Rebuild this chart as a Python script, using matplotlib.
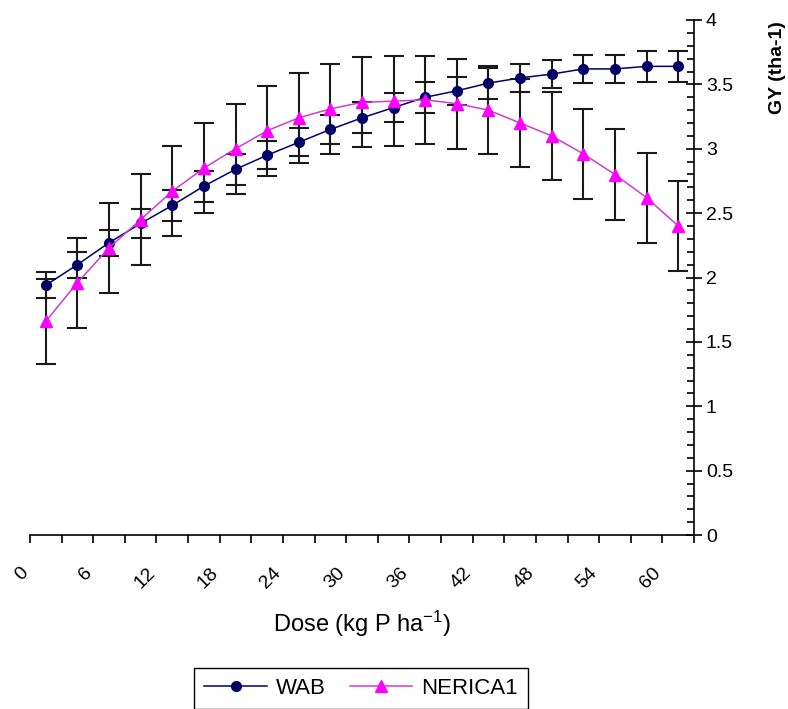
import numpy as np
import matplotlib
matplotlib.use("Agg")
import matplotlib.pyplot as plt
import matplotlib.transforms as mtransforms

plt.rcParams['font.family'] = ['Liberation Sans', 'DejaVu Sans']
plt.rcParams['mathtext.default'] = 'regular'

# dose categories (kg P/ha), one point per 3 kg
dose = [0, 3, 6, 9, 12, 15, 18, 21, 24, 27, 30, 33, 36, 39, 42, 45, 48, 51, 54, 57, 60]
dose_labels = ['0', '6', '12', '18', '24', '30', '36', '42', '48', '54', '60']

# grain yield (t/ha)
wab = [1.94, 2.10, 2.27, 2.42, 2.56, 2.71, 2.84, 2.95, 3.05, 3.15, 3.24,
       3.32, 3.40, 3.45, 3.51, 3.55, 3.58, 3.62, 3.62, 3.64, 3.64]
wab_err = [0.10, 0.10, 0.10, 0.11, 0.12, 0.12, 0.12, 0.11, 0.11, 0.11, 0.12,
           0.11, 0.12, 0.11, 0.12, 0.11, 0.11, 0.11, 0.11, 0.12, 0.12]

nerica = [1.66, 1.96, 2.23, 2.45, 2.67, 2.85, 3.00, 3.14, 3.24, 3.31, 3.36,
          3.37, 3.38, 3.35, 3.30, 3.20, 3.10, 2.96, 2.80, 2.62, 2.40]
nerica_err = [0.33, 0.35, 0.35, 0.35, 0.35, 0.35, 0.35, 0.35, 0.35, 0.35, 0.35,
              0.35, 0.34, 0.35, 0.34, 0.34, 0.34, 0.35, 0.35, 0.35, 0.35]

ytick_vals = [0, 0.5, 1, 1.5, 2, 2.5, 3, 3.5, 4]
ytick_labels = ['0', '0.5', '1', '1.5', '2', '2.5', '3', '3.5', '4']

fig = plt.figure(figsize=(7.88, 7.09), dpi=100)
ax = fig.add_axes([30/788, 1 - 535/709, (694 - 30)/788, (535 - 20)/709])

x = np.arange(len(dose))

ax.errorbar(x, wab, yerr=wab_err, fmt='none', ecolor='#1a1a1a', elinewidth=1.5,
            capsize=7, capthick=1.5, zorder=2)
ax.errorbar(x, nerica, yerr=nerica_err, fmt='none', ecolor='#1a1a1a', elinewidth=1.5,
            capsize=7, capthick=1.5, zorder=2)
ax.plot(x, wab, color='#000066', lw=1.1, marker='o', markersize=7,
        markerfacecolor='#000066', markeredgecolor='#000066', label='WAB', zorder=3)
ax.plot(x, nerica, color='#cc3fcc', lw=1.1, marker='^', markersize=9,
        markerfacecolor='#ff00ff', markeredgecolor='#ff00ff', label='NERICA1', zorder=4)

ax.set_xlim(-0.5, len(dose) - 0.5)
ax.set_ylim(0, 4)

# spines: only bottom and right
ax.spines['top'].set_visible(False)
ax.spines['left'].set_visible(False)
ax.spines['bottom'].set_linewidth(1.2)
ax.spines['right'].set_linewidth(1.2)

# x axis: tick marks between categories, labels every other category
ax.set_xticks(x[::2])
ax.set_xticklabels(dose_labels, rotation=45, ha='right', va='top', fontsize=14)
ax.set_xticks(np.arange(-0.5, len(dose), 1.0), minor=True)
ax.tick_params(axis='x', which='major', length=0, pad=21)
ax.tick_params(axis='x', which='minor', direction='out', length=6, width=1.2)
offset = mtransforms.ScaledTranslation(-0.14, 0, fig.dpi_scale_trans)
for lab in ax.get_xticklabels():
    lab.set_transform(lab.get_transform() + offset)

# y axis on the right
ax.yaxis.tick_right()
ax.set_yticks(ytick_vals)
ax.set_yticklabels(ytick_labels, fontsize=14)
ax.set_yticks(np.arange(0, 4.01, 0.1), minor=True)
ax.tick_params(axis='y', which='major', direction='inout', length=11, width=1.2, pad=3)
ax.tick_params(axis='y', which='minor', direction='in', length=5, width=1.2)

ax.set_xlabel('Dose (kg P ha$^{-1}$)', fontsize=17, labelpad=12)
fig.text(778/788, 1 - 68/709, 'GY (tha-1)', rotation=90, fontsize=14,
         fontweight='bold', ha='center', va='center')

fig.legend(loc='upper center', bbox_to_anchor=(361/788, 1 - 668/709), ncol=2,
           fontsize=16, frameon=True, fancybox=False, edgecolor='black',
           framealpha=1, handlelength=2.8, handletextpad=0.4, columnspacing=1.1,
           borderpad=0.45, borderaxespad=0)

fig.savefig('out.png', dpi=100)
